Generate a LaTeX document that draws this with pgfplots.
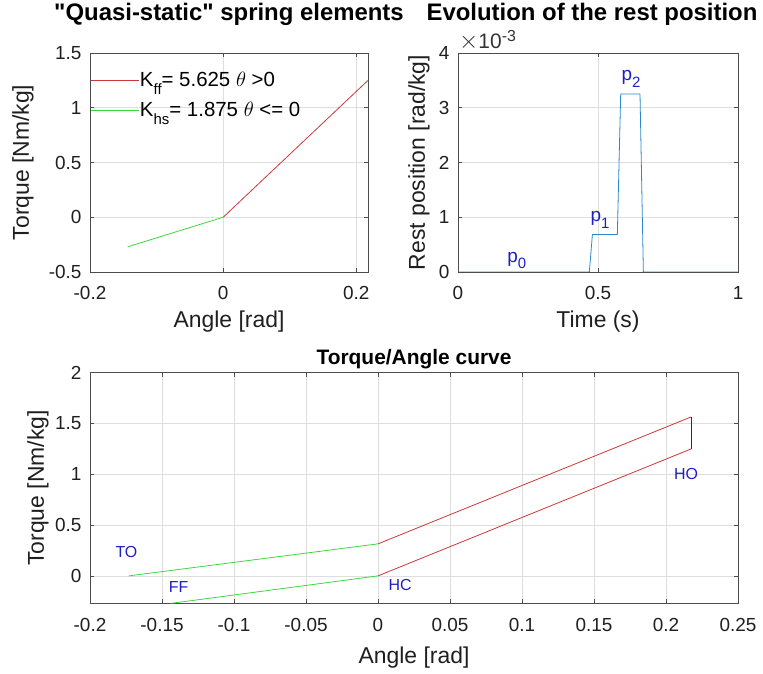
\documentclass[border=0pt]{standalone}
\usepackage{fontspec}
\setmainfont{Liberation Sans}
\usepackage{pgfplots}
\pgfplotsset{compat=1.18}
\definecolor{mred}{RGB}{205,55,55}
\definecolor{mgreen}{RGB}{60,215,60}
\definecolor{mblue}{RGB}{30,30,195}
\definecolor{lblue}{RGB}{45,135,200}
\pgfplotsset{mstyle/.style={
  scale only axis,
  axis line style={draw=black!70, line width=0.6pt},
  grid=major,
  major grid style={draw=black!13, line width=0.5pt},
  tick align=inside,
  major tick length=4bp,
  tick style={draw=black!70, line width=0.5pt},
  ticklabel style={font=\fontsize{19}{19}\selectfont, text=black!88},
  xticklabel style={yshift=-11bp},
  yticklabel style={xshift=-5bp},
  /pgf/number format/assume math mode=true,
  label style={font=\fontsize{23}{23}\selectfont, text=black!88},
  title style={font=\bfseries\fontsize{24}{24}\selectfont},
  clip mode=individual,
}}
\begin{document}
\begin{tikzpicture}[x=1bp,y=1bp]
\path[use as bounding box] (0,0) rectangle (763,674);
% top left
\begin{axis}[mstyle,
  at={(90bp,402bp)}, anchor=south west, width=278bp, height=219bp,
  xmin=-0.2, xmax=0.2175, ymin=-0.5, ymax=1.5,
  xtick={-0.2,0,0.2}, ytick={-0.5,0,0.5,1,1.5},
  title={\textquotedbl Quasi-static\textquotedbl{} spring elements},
  title style={at={(0.5,1)}, anchor=center, yshift=33bp},
  xlabel={Angle [rad]}, ylabel={Torque [Nm/kg]},
  xlabel style={at={(0.5,0)}, anchor=center, yshift=-50bp},
  ylabel style={at={(0,0.5)}, anchor=center, yshift=67bp},
  legend style={at={(0,1)}, anchor=north west, draw=none, fill=none,
    inner xsep=0pt, inner ysep=18bp, row sep=12bp,
    font=\fontsize{20.5}{20.5}\selectfont, nodes={inner sep=1bp}},
  legend cell align=left,
  legend image code/.code={\draw[#1] (-1bp,0bp) -- (47bp,0bp);},
]
\addplot[mred, line width=0.8pt] coordinates {(0,0) (0.2175,1.25)};
\addlegendentry{K\raisebox{-0.4em}{\fontsize{15}{15}\selectfont ff}= 5.625 $\theta$ >0}
\addplot[mgreen, line width=0.8pt] coordinates {(-0.1435,-0.27) (0,0)};
\addlegendentry{K\raisebox{-0.4em}{\fontsize{15}{15}\selectfont hs}= 1.875 $\theta$ <= 0}
\end{axis}
% top right
\begin{axis}[mstyle,
  at={(458bp,402bp)}, anchor=south west, width=280bp, height=219bp,
  xmin=0, xmax=1, ymin=0, ymax=0.004,
  xtick={0,0.5,1}, ytick={0,0.001,0.002,0.003,0.004},
  yticklabels={0,1,2,3,4}, scaled y ticks=false,
  title={Evolution of the rest position},
  title style={at={(0.5,1)}, anchor=center, yshift=33bp, xshift=-6bp},
  xlabel={Time (s)}, ylabel={Rest position [rad/kg]},
  xlabel style={at={(0.5,0)}, anchor=center, yshift=-50bp},
  ylabel style={at={(0,0.5)}, anchor=center, yshift=39bp},
]
\addplot[lblue, line width=0.8pt] coordinates {(0,0) (0.469,0) (0.48,0.000684) (0.569,0.000684) (0.581,0.00325) (0.65,0.00325) (0.662,0) (1,0)};
\node[mblue, font=\fontsize{19}{19}\selectfont] at (axis cs:0.21,0.00021) {p\raisebox{-0.35em}{\fontsize{15}{15}\selectfont 0}};
\node[mblue, font=\fontsize{19}{19}\selectfont] at (axis cs:0.507,0.00095) {p\raisebox{-0.35em}{\fontsize{15}{15}\selectfont 1}};
\node[mblue, font=\fontsize{19}{19}\selectfont] at (axis cs:0.618,0.00353) {p\raisebox{-0.35em}{\fontsize{15}{15}\selectfont 2}};
\node[anchor=base west, inner sep=0pt, font=\fontsize{21}{21}\selectfont, text=black!80] at (rel axis cs:0,1) [yshift=4bp, xshift=1bp] {{\fontsize{23}{23}\selectfont$\times$}10\raisebox{0.38em}{\fontsize{16}{16}\selectfont -3}};
\end{axis}
% bottom
\begin{axis}[mstyle,
  at={(90bp,70.7bp)}, anchor=south west, width=648bp, height=230.6bp,
  xmin=-0.2, xmax=0.25, ymin=-0.27, ymax=2,
  xtick={-0.2,-0.15,-0.1,-0.05,0,0.05,0.1,0.15,0.2,0.25},
  xticklabels={-0.2,-0.15,-0.1,-0.05,0,0.05,0.1,0.15,0.2,0.25},
  ytick={0,0.5,1,1.5,2},
  title={Torque/Angle curve},
  title style={at={(0.5,1)}, anchor=center, yshift=8bp, font=\bfseries\fontsize{21}{21}\selectfont},
  xlabel={Angle [rad]}, ylabel={Torque [Nm/kg]},
  xlabel style={at={(0.5,0)}, anchor=center, yshift=-54bp},
  ylabel style={at={(0,0.5)}, anchor=center, yshift=52bp},
]
\addplot[mred, line width=0.8pt] coordinates {(0,0.315) (0.2175,1.565)};
\addplot[mred, line width=0.8pt] coordinates {(0,0) (0.2175,1.25)};
\addplot[mgreen, line width=0.8pt] coordinates {(-0.173,0) (0,0.315)};
\addplot[mgreen, line width=0.8pt] coordinates {(-0.1435,-0.27) (0,0)};
\addplot[mblue, line width=0.8pt] coordinates {(0.2175,1.25) (0.2175,1.565)};
\node[mblue, font=\fontsize{16}{16}\selectfont] at (axis cs:-0.1747,0.23) {TO};
\node[mblue, font=\fontsize{16}{16}\selectfont] at (axis cs:-0.1385,-0.11) {FF};
\node[mblue, font=\fontsize{16}{16}\selectfont] at (axis cs:0.0153,-0.09) {HC};
\node[mblue, font=\fontsize{16}{16}\selectfont] at (axis cs:0.214,1.0) {HO};
\end{axis}
\end{tikzpicture}
\end{document}
